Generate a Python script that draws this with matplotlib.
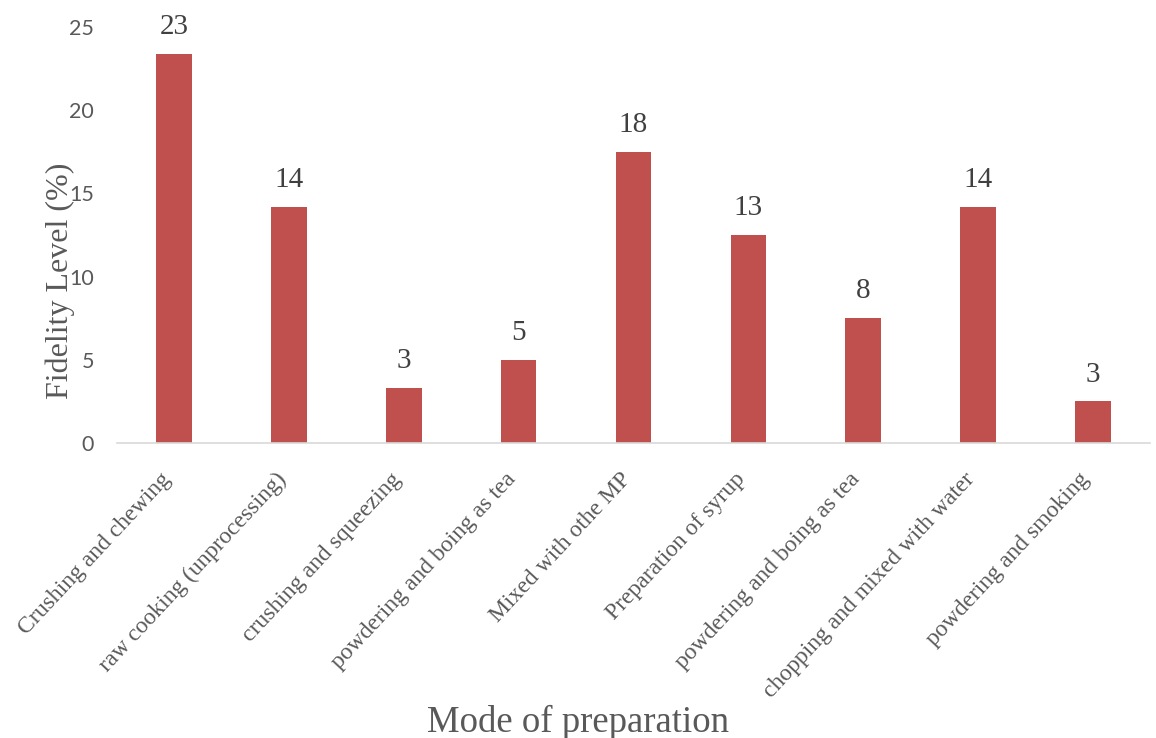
import matplotlib.pyplot as plt
from matplotlib.transforms import offset_copy

categories = [
    "Crushing and chewing",
    "raw cooking (unprocessing)",
    "crushing and squeezing",
    "powdering and boing as tea",
    "Mixed with othe MP",
    "Preparation of syrup",
    "powdering and boing as tea",
    "chopping and mixed with water",
    "powdering and smoking",
]
fidelity = [23.4, 14.2, 3.3, 5.0, 17.5, 12.5, 7.5, 14.2, 2.5]
value_labels = ["23", "14", "3", "5", "18", "13", "8", "14", "3"]
yticks = [0, 5, 10, 15, 20, 25]

bar_color = "#C0504D"
text_gray = "#595959"
serif = ["Liberation Serif", "DejaVu Serif"]

fig = plt.figure(figsize=(11.56, 7.38), dpi=100)
ax = fig.add_axes([0.101, 0.3997, 0.894, 0.5637])

x = list(range(len(categories)))
ax.bar(x, fidelity, width=0.31, color=bar_color, zorder=2)

for xi, v, lab in zip(x, fidelity, value_labels):
    ax.annotate(lab, (xi, v), xytext=(0, 10), textcoords="offset points",
                ha="center", va="bottom", fontsize=21, family=serif,
                color="#404040")

ax.set_xlim(-0.5, len(categories) - 0.5)
ax.set_ylim(0, 25)
ax.set_yticks(yticks)
ax.set_yticklabels([str(t) for t in yticks], family="Lato", fontsize=15.5,
                   color=text_gray)
ax.tick_params(axis="y", length=0, pad=16.5)
ax.tick_params(axis="x", length=0, pad=0)

ax.set_xticks(x)
ax.set_xticklabels(categories, rotation=47, ha="right", va="top",
                   rotation_mode="anchor", family=serif, fontsize=17,
                   color=text_gray)
for lbl in ax.get_xticklabels():
    lbl.set_transform(offset_copy(lbl.get_transform(), fig=fig, x=-14, y=-26,
                                  units="dots"))

for side in ["top", "right", "left"]:
    ax.spines[side].set_visible(False)
ax.spines["bottom"].set_color("#D9D9D9")
ax.spines["bottom"].set_linewidth(1.2)

ax.set_ylabel("Fidelity Level (%)", family=serif, fontsize=23, color=text_gray)
ax.yaxis.label.set_va("center")
ax.yaxis.set_label_coords(-0.055, 0.39)

fig.text(0.5, 0.0081, "Mode of preparation", ha="center", va="baseline",
         family=serif, fontsize=26.5, color=text_gray,
         transform=fig.transFigure)

fig.savefig("out.png", dpi=100)
